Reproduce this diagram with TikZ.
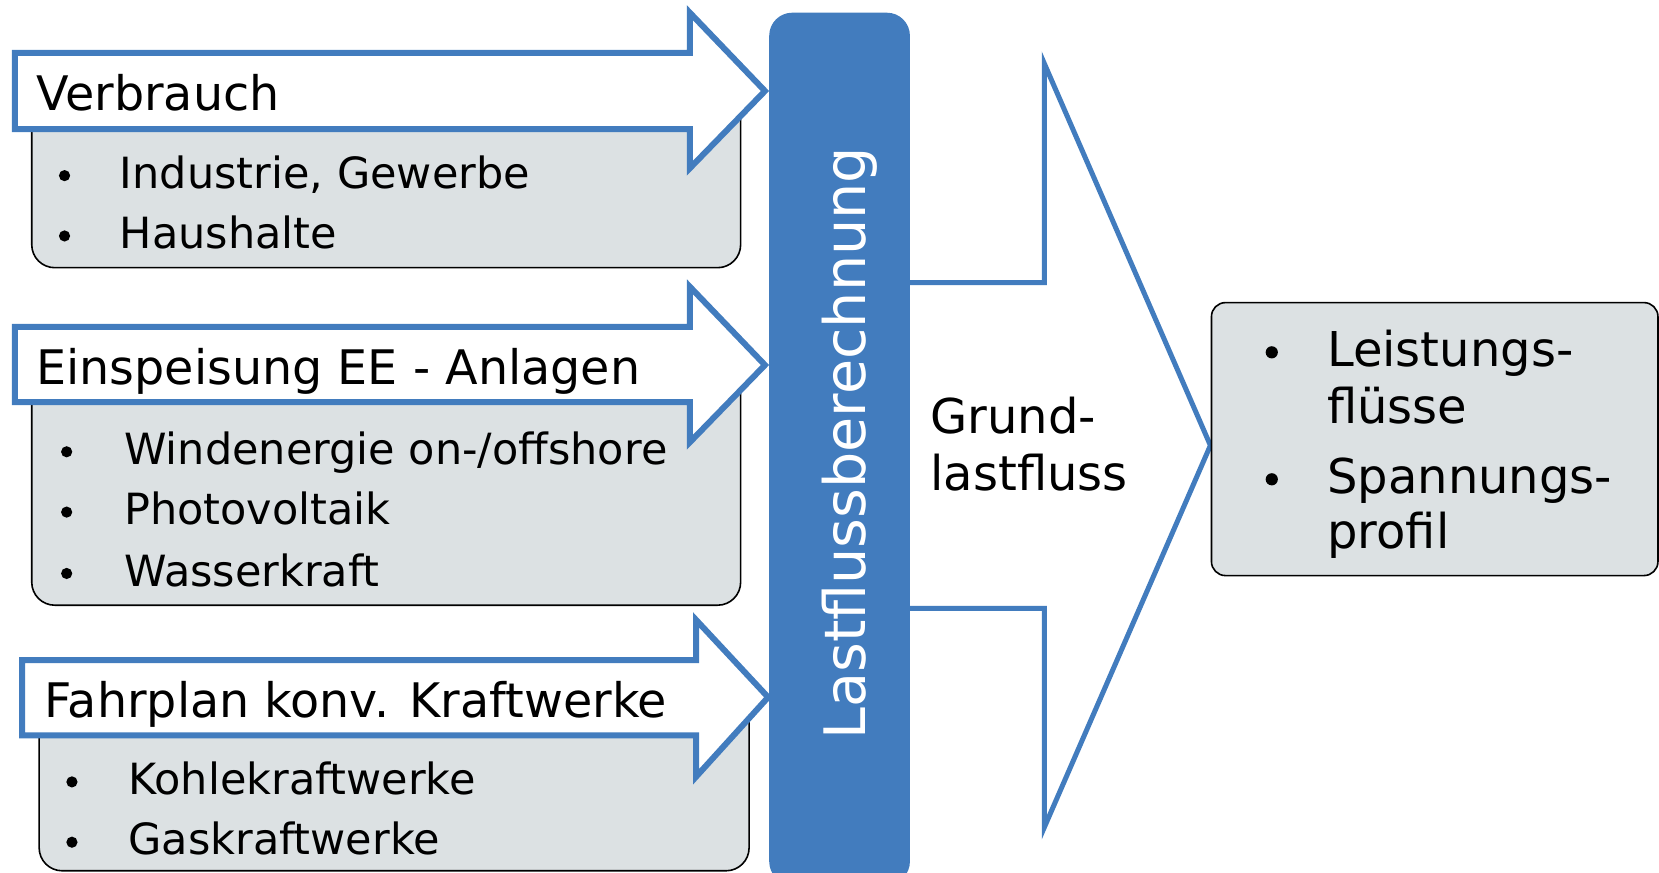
\documentclass[tikz,border=0pt]{standalone}
\usepackage{fontspec}
\setmainfont{DejaVu Sans}
\definecolor{barblue}{RGB}{66,124,190}
\definecolor{boxgray}{RGB}{220,225,227}
\begin{document}
\begin{tikzpicture}[x=0.529pt,y=-0.529pt,
  graybox/.style={draw=black,line width=0.8pt,fill=boxgray,rounded corners=11.5pt},
  inarrow/.style={draw=barblue,line width=3pt,fill=white,line join=miter},
  outarrow/.style={draw=barblue,line width=2.5pt,fill=white,line join=miter},
  headtxt/.style={anchor=base west,inner sep=0pt,font=\fontsize{23.8}{28}\selectfont},
  itemtxt/.style={anchor=base west,inner sep=0pt,font=\fontsize{21.5}{26}\selectfont},
  bul/.style={circle,fill=black,inner sep=0pt,outer sep=0pt,minimum size=5.6pt},
  rtxt/.style={anchor=base west,inner sep=0pt,font=\fontsize{24}{29}\selectfont},
  rbul/.style={circle,fill=black,inner sep=0pt,outer sep=0pt,minimum size=6.1pt}]
\useasboundingbox (0,0) rectangle (1568,825);
\clip (0,0) rectangle (1568,825);

% gray boxes
\draw[graybox] (30,70) rectangle (700,253);
\draw[graybox] (30,330) rectangle (700,572);
\draw[graybox] (37,645) rectangle (708,823);

% input arrows
\draw[inarrow] (14,50) -- (652,50) -- (652,12) -- (723,86) -- (652,159) -- (652,122) -- (14,122) -- cycle;
\draw[inarrow] (14,309) -- (652,309) -- (652,271) -- (723,345) -- (652,418) -- (652,380) -- (14,380) -- cycle;
\draw[inarrow] (21,624) -- (658,624) -- (658,586) -- (726,659) -- (658,734) -- (658,695) -- (21,695) -- cycle;

% headers
\node[headtxt] (h1) at (34,104) {Verbrauch};
\node[headtxt] (h2) at (34,363) {Einspeisung EE - Anlagen};
\node[headtxt] (h3) at (42,678) {Fahrplan konv. Kraftwerke};

% items
\node[bul] (b11) at (61,166) {};
\node[itemtxt] (i11) at (113,178) {Industrie, Gewerbe};
\node[bul] (b12) at (61,223) {};
\node[itemtxt] (i12) at (113,235) {Haushalte};

\node[bul] (b21) at (63,427) {};
\node[itemtxt] (i21) at (117,439) {Windenergie on-/offshore};
\node[bul] (b22) at (63,484) {};
\node[itemtxt] (i22) at (117,496) {Photovoltaik};
\node[bul] (b23) at (63,542) {};
\node[itemtxt] (i23) at (117,554) {Wasserkraft};

\node[bul] (b31) at (68,739) {};
\node[itemtxt] (i31) at (121,751) {Kohlekraftwerke};
\node[bul] (b32) at (68,796) {};
\node[itemtxt] (i32) at (121,808) {Gaskraftwerke};

% output arrow
\draw[outarrow] (860,267) -- (987,267) -- (987,60) -- (1144,421) -- (987,782) -- (987,575) -- (860,575);

% bar
\draw[fill=barblue,draw=none,rounded corners=11.5pt] (727,12) rectangle (860,836);
\node[anchor=base,inner sep=0pt,rotate=90,text=white,font=\fontsize{28.6}{34}\selectfont] (lfb) at (818,419) {Lastflussberechnung};

% Grundlastfluss
\node[rtxt] (g1) at (879,410) {Grund-};
\node[rtxt] (g2) at (879,464) {lastfluss};

% result box
\draw[graybox,rounded corners=7pt] (1145,286) rectangle (1567,544);
\node[rbul] (r1b) at (1202,333) {};
\node[rtxt] (r1a) at (1254,346) {Leistungs-};
\node[rtxt] (r1c) at (1254,400) {flüsse};
\node[rbul] (r2b) at (1202,453) {};
\node[rtxt] (r2a) at (1254,466) {Spannungs-};
\node[rtxt] (r2c) at (1254,518) {profil};
\end{tikzpicture}
\end{document}
